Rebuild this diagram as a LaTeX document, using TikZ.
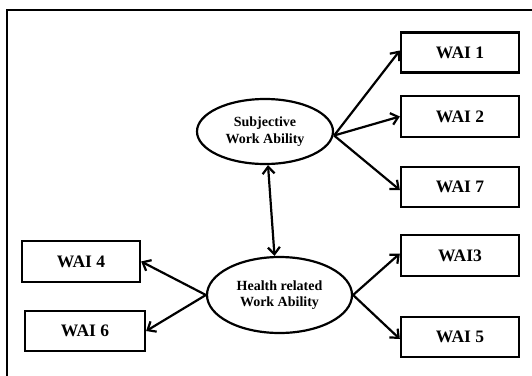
\documentclass[tikz,border=0pt]{standalone}
\usepackage{fontspec}
\setmainfont{Liberation Serif}
\usetikzlibrary{arrows.meta,shapes.geometric}
\tikzset{
  itembox/.style={draw, line width=2.3pt, rectangle, minimum width=118pt, minimum height=40pt, inner sep=0pt,
    font=\fontsize{17.5}{19}\selectfont\bfseries},
  latent/.style={draw, line width=2.2pt, ellipse, inner sep=0pt, align=center,
    font=\fontsize{14}{16.5}\selectfont\bfseries},
  link/.style={line width=2.2pt, -{Straight Barb[length=7pt,width=12pt]}},
  dlink/.style={line width=2.2pt, {Straight Barb[length=7pt,width=12pt]}-{Straight Barb[length=7pt,width=12pt]}},
  frameline/.style={line width=1.8pt}
}
\begin{document}
\begin{tikzpicture}[x=1pt,y=-1pt]
\useasboundingbox (0,0) rectangle (532,375);
\draw[frameline] (7,376) -- (7,10) -- (533,10);
% observed items
\node[itembox] (w1) at (460,52.5) {WAI 1};
\node[itembox, minimum height=41pt] (w2) at (460,116.5) {WAI 2};
\node[itembox] (w7) at (460,187) {WAI 7};
\node[itembox, minimum height=41pt] (w3) at (460,255.5) {WAI3};
\node[itembox] (w5) at (460,337) {WAI 5};
\node[itembox, minimum height=41pt] (w4) at (81,261.5) {WAI 4};
\node[itembox, minimum width=120pt] (w6) at (85,331) {WAI 6};
% latent factors
\node[latent, minimum width=136pt, minimum height=65pt] (subj) at (265,131.5) {Subjective\\Work Ability};
\node[latent, minimum width=145pt, minimum height=76pt] (hlth) at (279.5,295) {Health related\\Work Ability};
% paths
\draw[link] ([yshift=-4pt]subj.east) -- ([yshift=2pt]w1.west);
\draw[link] ([yshift=-4pt]subj.east) -- (w2.west);
\draw[link] ([yshift=-4pt]subj.east) -- ([yshift=-3pt]w7.west);
\draw[dlink] ([xshift=3pt]subj.south) -- ([xshift=-5pt]hlth.north);
\draw[link] (hlth.west) -- (w4.east);
\draw[link] (hlth.west) -- (w6.east);
\draw[link] (hlth.east) -- ([yshift=2pt]w3.west);
\draw[link] (hlth.east) -- ([yshift=-2pt]w5.west);
\end{tikzpicture}
\end{document}
